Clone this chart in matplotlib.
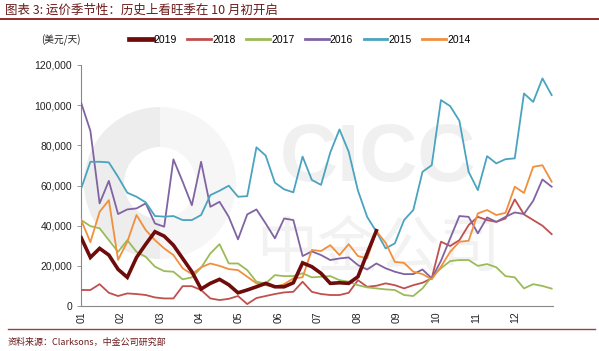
import matplotlib
matplotlib.use("Agg")
import matplotlib.pyplot as plt
from matplotlib.ticker import FuncFormatter
from matplotlib.lines import Line2D
from matplotlib.patches import Wedge, Circle
import numpy as np

plt.rcParams['font.family'] = ['Liberation Sans', 'Noto Sans CJK SC', 'DejaVu Sans']

months = ["01", "02", "03", "04", "05", "06", "07", "08", "09", "10", "11", "12"]
series_names = ["2019", "2018", "2017", "2016", "2015", "2014"]

y2019 = [34000, 24200, 28700, 25400, 18300, 14300, 24200, 30800, 37000, 34800,
         30300, 23700, 17100, 8500, 11300, 13300, 10600, 6600, 8000, 9600,
         11300, 9600, 9600, 11600, 21500, 19600, 16300, 11300, 11600, 11300,
         14600, 26200, 37500]
y2018 = [8000, 8000, 10900, 6600, 5000, 6300, 6000, 5500, 4300, 3800,
         3800, 9900, 9900, 8000, 3800, 3000, 3600, 5000, 1000, 4000,
         5000, 6000, 6800, 7100, 12100, 7100, 6000, 5500, 5500, 6600,
         12900, 9600, 10100, 11300, 10400, 8800, 10400, 11600, 13800, 32000,
         29900, 32800, 40300, 44400, 42800, 41900, 43600, 53100, 45600, 42800,
         40000, 35800]
y2017 = [42800, 39800, 38700, 32800, 27000, 32800, 27000, 24500, 19600, 17400,
         17100, 13300, 14300, 19100, 26200, 30800, 21200, 21200, 17900, 12100,
         11300, 15400, 14900, 14900, 16300, 14300, 14600, 14900, 12900, 12100,
         10400, 9300, 8800, 8300, 8000, 5500, 5000, 8800, 14600, 18800,
         22400, 22900, 22900, 20000, 20900, 19300, 14900, 14300, 8800, 10900,
         10000, 8700]
y2016 = [101100, 87200, 51100, 62300, 45800, 48100, 48600, 51100, 41100, 39500,
         73000, 61900, 50200, 71800, 49400, 51900, 44400, 33200, 45600, 48100,
         41100, 33700, 43600, 42800, 24900, 27200, 25400, 22900, 23700, 24200,
         20400, 18200, 21200, 18800, 17100, 15900, 15900, 18200, 13800, 22500,
         33700, 44800, 44400, 36200, 44100, 41900, 44400, 46600, 45800, 52400,
         63000, 59400]
y2015 = [58500, 71800, 71800, 71500, 64300, 56400, 54400, 51600, 44800, 44500,
         44800, 42800, 42800, 45300, 55200, 57400, 59900, 54400, 54700, 79000,
         74900, 61400, 58100, 56600, 74400, 62800, 60300, 76400, 87900, 76800,
         57500, 44400, 37000, 28700, 31200, 42800, 47800, 66800, 70100, 102500,
         99500, 92200, 66800, 57700, 74600, 71000, 73100, 73500, 105800, 101600,
         113300, 105000]
y2014 = [42800, 31800, 46900, 52700, 23000, 32000, 45300, 37800, 32800, 28700,
         25400, 18800, 15900, 19300, 21200, 20000, 18400, 17900, 14600, 11300,
         10400, 9600, 10900, 13800, 14300, 27900, 27400, 30300, 25400, 30800,
         24900, 23700, 37300, 31500, 22000, 21500, 17100, 15900, 13300, 19600,
         27000, 32000, 32500, 46100, 47800, 45300, 46400, 59400, 56300, 69300,
         70100, 61900]

data = [y2019, y2018, y2017, y2016, y2015, y2014]
colors = ["#6e0b0b", "#c0504d", "#9bbb59", "#8064a2", "#4aa3bf", "#f08f3e"]
widths = [2.6, 1.3, 1.3, 1.3, 1.3, 1.3]
zorders = [8, 3, 4, 5, 6, 7]

W, H = 599, 351
fig = plt.figure(figsize=(W / 100, H / 100), dpi=100)

# faint watermark (logo ring + letters), behind everything
bg = fig.add_axes([0, 0, 1, 1], zorder=-5)
bg.set_xlim(0, W)
bg.set_ylim(H, 0)
bg.set_aspect('equal')
bg.axis('off')
bg.add_patch(Wedge((160, 183), 76, 90, 270, width=40, color='#ededed', lw=0))
bg.add_patch(Wedge((160, 183), 76, -90, 90, width=40, color='#f6f6f6', lw=0))
bg.text(378, 160, "CICC", fontsize=58, color='#f0f0f0', ha='center', va='center',
        fontweight='bold')
bg.text(378, 250, "中金公司", fontsize=44, color='#f2f2f2', ha='center', va='center',
        family=['Noto Sans CJK SC', 'DejaVu Sans'])

ax = fig.add_axes([0.1355, 0.128, 0.787, 0.687])
ax.patch.set_alpha(0)

for name, ys, c, w, z in zip(series_names, data, colors, widths, zorders):
    ax.plot(np.arange(len(ys)), ys, color=c, lw=w, zorder=z,
            solid_joinstyle='miter' if w > 2 else 'round')

ax.set_xlim(0, 51.1)
ax.set_ylim(0, 120000)
ax.set_yticks(np.arange(0, 120001, 20000))
ax.yaxis.set_major_formatter(FuncFormatter(lambda v, p: f"{int(v):,}"))
ax.set_xticks(np.arange(12) * 4.28)
ax.set_xticklabels(months, rotation=90)
ax.tick_params(axis='both', labelsize=7.5, colors='#222222', length=3, width=0.6)
ax.tick_params(axis='x', length=0, pad=4)
ax.tick_params(axis='y', color='#888888')
for s in ['top', 'right']:
    ax.spines[s].set_visible(False)
for s in ['left', 'bottom']:
    ax.spines[s].set_color('#888888')
    ax.spines[s].set_linewidth(0.8)

# legend
handles = [Line2D([0], [0], color=c, lw=(3.4 if w > 2 else 2.0)) for c, w in zip(colors, widths)]
fig.legend(handles, series_names, loc='center', bbox_to_anchor=(0.5, 0.886),
           ncol=6, frameon=False, fontsize=7.5, handlelength=2.3,
           handletextpad=0.1, columnspacing=1.0)

fig.text(0.068, 0.886, "(美元/天)", fontsize=7, va='center', ha='left',
         family=['Noto Sans CJK SC', 'DejaVu Sans'], color='#222222')

fig.text(0.008, 0.972, "图表 3: 运价季节性：历史上看旺季在 10 月初开启", fontsize=9,
         va='center', ha='left', style='italic', color='#6a1a1a',
         family=['Noto Sans CJK SC', 'DejaVu Sans'])
fig.add_artist(Line2D([0.0, 1.0], [0.945, 0.945], color='#8b1a1a', lw=1.3))
fig.add_artist(Line2D([0.013, 0.993], [0.063, 0.063], color='#a04040', lw=1.0))
fig.text(0.013, 0.026, "资料来源：Clarksons，中金公司研究部", fontsize=6.5,
         va='center', ha='left', style='italic', color='#6a1a1a',
         family=['Noto Sans CJK SC', 'DejaVu Sans'])

fig.savefig("out.png", dpi=100)
